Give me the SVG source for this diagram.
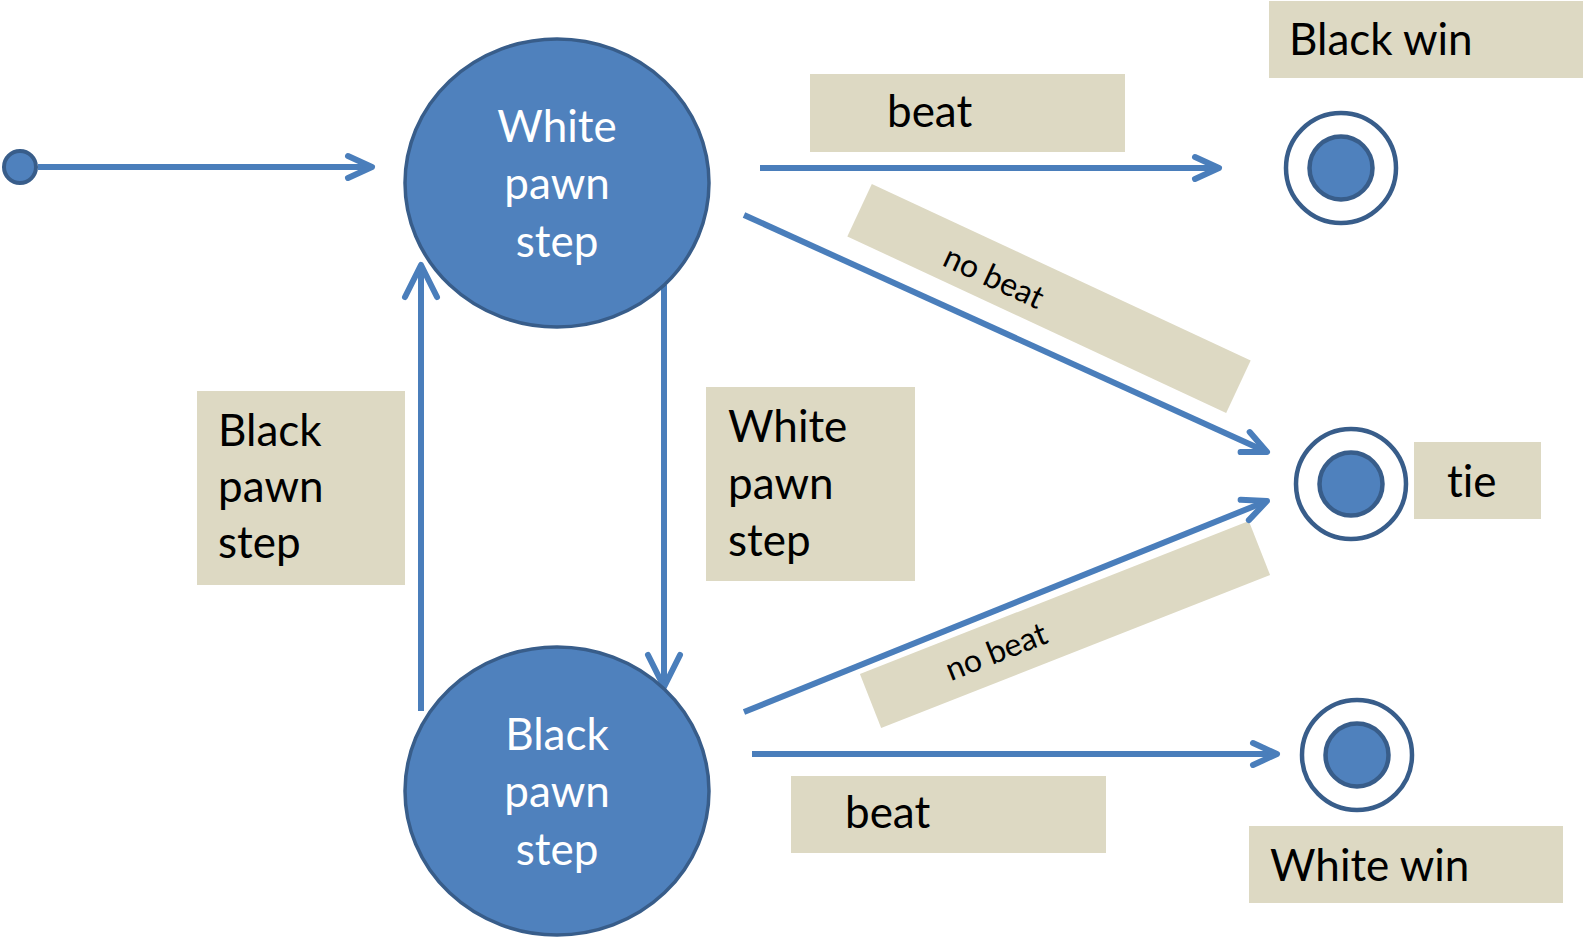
<svg xmlns="http://www.w3.org/2000/svg" width="1583" height="937" viewBox="0 0 1583 937">
<style>
text{font-variant-ligatures:none;font-feature-settings:"liga" 0,"clig" 0}
.node{fill:#4f81bd;stroke:#385d8a;stroke-width:3.5}
.ntext{font-family:Lato,"Liberation Sans",sans-serif;font-size:44px;fill:#ffffff;text-anchor:middle}
.lbl{fill:#ddd9c3}
.ltext{font-family:Lato,"Liberation Sans",sans-serif;font-size:44px;fill:#000000}
.stext{font-family:Lato,"Liberation Sans",sans-serif;font-size:32px;fill:#000000;text-anchor:middle}
.conn{fill:none;stroke:#4a7ebb;stroke-width:6}
.fout{fill:#ffffff;stroke:#385d8a;stroke-width:4.5}
.fin{fill:#4f81bd;stroke:#385d8a;stroke-width:4.5}
</style>
<defs>
<marker id="arr" markerUnits="userSpaceOnUse" viewBox="-30 -16 36 32" refX="0" refY="0" markerWidth="36" markerHeight="32" orient="auto" overflow="visible">
<path d="M-24,-11 L0,0 L-24,11" fill="none" stroke="#4a7ebb" stroke-width="6" stroke-linecap="round" stroke-linejoin="round"/>
</marker>
<marker id="arrL" markerUnits="userSpaceOnUse" viewBox="-36 -20 42 40" refX="0" refY="0" markerWidth="42" markerHeight="40" orient="auto" overflow="visible">
<path d="M-32,-16 L0,0 L-32,16" fill="none" stroke="#4a7ebb" stroke-width="6" stroke-linecap="round" stroke-linejoin="round"/>
</marker>
</defs>
<rect width="1583" height="937" fill="#ffffff"/>

<g id="labels">
<g id="lbl-beat-top"><rect class="lbl" x="810" y="74" width="315" height="78"/><text class="ltext" x="887" y="127">beat</text></g>
<g id="lbl-black-win"><rect class="lbl" x="1269" y="1" width="314" height="77"/><text class="ltext" x="1289" y="55">Black win</text></g>
<g id="lbl-black-step"><rect class="lbl" x="197" y="391" width="208" height="194"/><text class="ltext" x="218" y="446">Black</text><text class="ltext" x="218" y="502">pawn</text><text class="ltext" x="218" y="558">step</text></g>
<g id="lbl-white-step"><rect class="lbl" x="706" y="387" width="209" height="194"/><text class="ltext" x="728" y="442">White</text><text class="ltext" x="728" y="499">pawn</text><text class="ltext" x="728" y="556">step</text></g>
<g id="lbl-tie"><rect class="lbl" x="1414" y="442" width="127" height="77"/><text class="ltext" x="1447" y="497">tie</text></g>
<g id="lbl-beat-bottom"><rect class="lbl" x="791" y="776" width="315" height="77"/><text class="ltext" x="845" y="828">beat</text></g>
<g id="lbl-white-win"><rect class="lbl" x="1249" y="826" width="314" height="77"/><text class="ltext" x="1270" y="881">White win</text></g>
<g id="lbl-nobeat-top" transform="translate(1049,298.5) rotate(25)"><rect class="lbl" x="-209" y="-29" width="418" height="58"/><text class="stext" x="-59" y="15">no beat</text></g>
<g id="lbl-nobeat-bottom" transform="translate(1065,624.5) rotate(-21.5)"><rect class="lbl" x="-209" y="-29" width="418" height="58"/><text class="stext" x="-74" y="11">no beat</text></g>
</g>

<g id="connectors">
<line class="conn" x1="38" y1="167" x2="372" y2="167" marker-end="url(#arr)"/>
<line class="conn" x1="760" y1="168" x2="1219" y2="168" marker-end="url(#arr)"/>
<line class="conn" x1="744" y1="215" x2="1267" y2="452" marker-end="url(#arr)"/>
<line class="conn" x1="744" y1="712" x2="1267" y2="501" marker-end="url(#arr)"/>
<line class="conn" x1="752" y1="754" x2="1277" y2="754" marker-end="url(#arr)"/>
<line class="conn" x1="664" y1="285" x2="664" y2="687" marker-end="url(#arrL)"/>
<line class="conn" x1="421" y1="711" x2="421" y2="265" marker-end="url(#arrL)"/>
</g>

<g id="start"><circle class="node" cx="20" cy="167" r="16" style="stroke-width:4"/></g>

<g id="white-pawn-step"><ellipse class="node" cx="557" cy="183" rx="152" ry="144"/><text class="ntext" x="557" y="142">White</text><text class="ntext" x="557" y="199">pawn</text><text class="ntext" x="557" y="257">step</text></g>

<g id="black-pawn-step"><ellipse class="node" cx="557" cy="791" rx="152" ry="144"/><text class="ntext" x="557" y="750">Black</text><text class="ntext" x="557" y="807">pawn</text><text class="ntext" x="557" y="865">step</text></g>

<g id="final-black-win"><circle class="fout" cx="1341" cy="168" r="55"/><circle class="fin" cx="1341" cy="168" r="31.5"/></g>
<g id="final-tie"><circle class="fout" cx="1351" cy="484" r="55"/><circle class="fin" cx="1351" cy="484" r="31.5"/></g>
<g id="final-white-win"><circle class="fout" cx="1357" cy="755" r="55"/><circle class="fin" cx="1357" cy="755" r="31.5"/></g>
</svg>
